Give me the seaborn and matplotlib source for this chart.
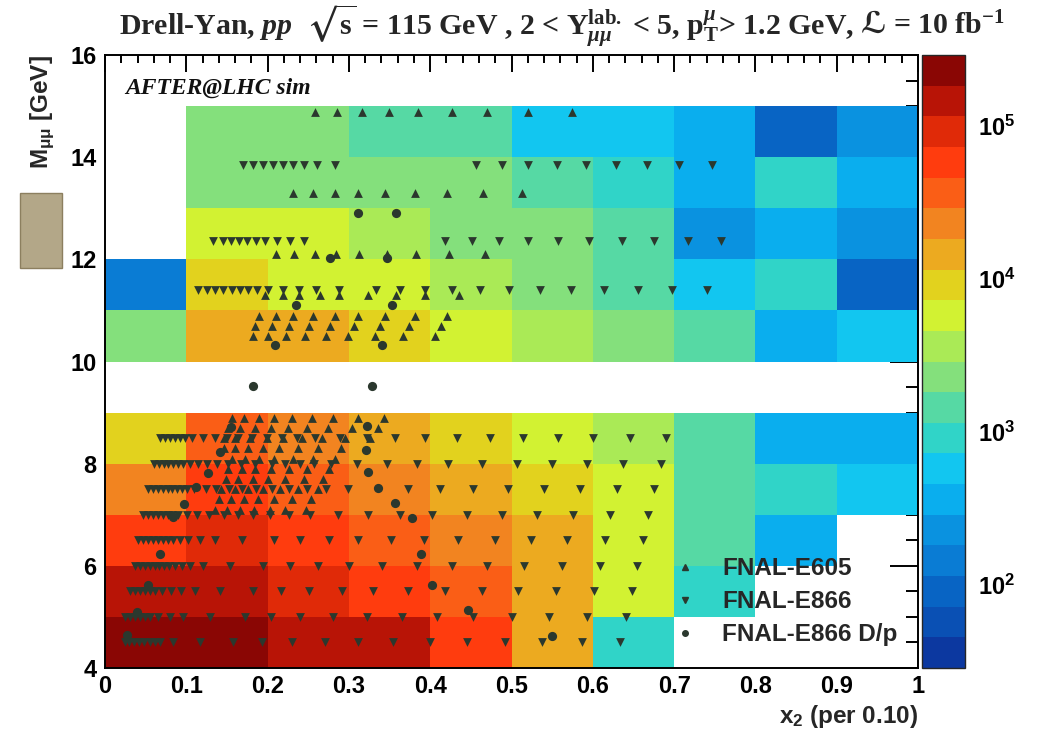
import numpy as np
import pandas as pd
import matplotlib
matplotlib.use("Agg")
import matplotlib.pyplot as plt
import seaborn as sns
from matplotlib.colors import ListedColormap, LogNorm
from matplotlib.lines import Line2D
from matplotlib.patches import Rectangle
from matplotlib.ticker import MultipleLocator, FixedLocator, LogLocator, NullFormatter

# ----------------------------------------------------------------------
# data
# ----------------------------------------------------------------------
nan = np.nan
x_edges = [0.0, 0.1, 0.2, 0.3, 0.4, 0.5, 0.6, 0.7, 0.8, 0.9, 1.0]
m_edges = [4, 5, 6, 7, 8, 9, 10, 11, 12, 13, 14, 15, 16]

# simulated yield per (M, x2) cell, rows from M = 4 upwards
counts = [
    [2.3e5, 2.3e5, 1.45e5, 1.45e5, 5.8e4, 1.45e4, 9.1e2, nan, nan, nan],
    [1.45e5, 1.45e5, 9.1e4, 5.8e4, 3.6e4, 1.45e4, 5.8e3, 9.1e2, nan, nan],
    [5.8e4, 9.1e4, 5.8e4, 3.6e4, 2.3e4, 1.45e4, 5.8e3, 1.45e3, 3.6e2, nan],
    [2.3e4, 5.8e4, 3.6e4, 2.3e4, 1.45e4, 9.1e3, 5.8e3, 1.45e3, 9.1e2, 5.8e2],
    [9.1e3, 3.6e4, 2.3e4, 1.45e4, 9.1e3, 5.8e3, 3.6e3, 1.45e3, 3.6e2, 3.6e2],
    [nan, nan, nan, nan, nan, nan, nan, nan, nan, nan],
    [2.3e3, 1.45e4, 1.45e4, 9.1e3, 5.8e3, 3.6e3, 2.3e3, 1.45e3, 3.6e2, 5.8e2],
    [1.45e2, 9.1e3, 5.8e3, 5.8e3, 3.6e3, 2.3e3, 1.45e3, 5.8e2, 9.1e2, 9.1e1],
    [nan, 5.8e3, 5.8e3, 3.6e3, 2.3e3, 2.3e3, 1.45e3, 2.3e2, 3.6e2, 2.3e2],
    [nan, 2.3e3, 2.3e3, 2.3e3, 2.3e3, 1.45e3, 9.1e2, 3.6e2, 9.1e2, 3.6e2],
    [nan, 2.3e3, 2.3e3, 1.45e3, 1.45e3, 5.8e2, 5.8e2, 3.6e2, 9.1e1, 2.3e2],
    [nan, nan, nan, nan, nan, nan, nan, nan, nan, nan],
]

# FNAL-E605 points: one mass row each
e605_m = [7.1, 7.3, 7.5, 7.7, 7.9, 8.1, 8.3, 8.5, 8.7, 8.9,
          10.5, 10.7, 10.9, 11.3, 12.1, 13.3, 14.88]
e605_x = [
    [0.135, 0.150, 0.166, 0.183, 0.203, 0.222, 0.247],
    [0.140, 0.155, 0.171, 0.188, 0.208, 0.230, 0.253],
    [0.143, 0.160, 0.176, 0.194, 0.215, 0.237, 0.262],
    [0.149, 0.164, 0.182, 0.201, 0.222, 0.245, 0.268],
    [0.151, 0.168, 0.185, 0.204, 0.226, 0.249, 0.275],
    [0.156, 0.172, 0.189, 0.208, 0.231, 0.256, 0.283],
    [0.146, 0.160, 0.176, 0.194, 0.214, 0.237, 0.262, 0.290],
    [0.146, 0.160, 0.178, 0.199, 0.219, 0.242, 0.267, 0.295, 0.326],
    [0.151, 0.166, 0.185, 0.204, 0.225, 0.248, 0.274, 0.304, 0.336],
    [0.156, 0.171, 0.189, 0.208, 0.230, 0.254, 0.281, 0.311, 0.343],
    [0.182, 0.200, 0.223, 0.246, 0.272, 0.299, 0.332, 0.367, 0.406],
    [0.185, 0.205, 0.226, 0.251, 0.277, 0.306, 0.338, 0.374, 0.413],
    [0.190, 0.210, 0.231, 0.256, 0.283, 0.311, 0.344, 0.381, 0.421],
    [0.197, 0.219, 0.239, 0.264, 0.288, 0.323, 0.358, 0.394, 0.435],
    [0.210, 0.232, 0.258, 0.284, 0.312, 0.347, 0.383, 0.423, 0.467],
    [0.231, 0.256, 0.283, 0.311, 0.344, 0.381, 0.421, 0.465, 0.513],
    [0.258, 0.285, 0.316, 0.349, 0.385, 0.427, 0.470, 0.520, 0.574],
]

# FNAL-E866 points
e866_m = [4.5, 5.0, 5.5, 6.0, 6.5, 7.0, 7.5, 8.0, 8.5, 11.4, 12.35, 13.85]
e866_x = [
    [0.024, 0.030, 0.036, 0.042, 0.048, 0.055, 0.061, 0.068, 0.084, 0.117,
     0.158, 0.193, 0.230, 0.271, 0.311, 0.354, 0.400, 0.445, 0.492, 0.537,
     0.587, 0.633],
    [0.025, 0.031, 0.037, 0.043, 0.049, 0.055, 0.065, 0.080, 0.096, 0.129,
     0.172, 0.204, 0.240, 0.281, 0.322, 0.365, 0.408, 0.453, 0.501, 0.546,
     0.593, 0.641],
    [0.031, 0.037, 0.043, 0.049, 0.055, 0.062, 0.070, 0.081, 0.093, 0.111,
     0.141, 0.182, 0.217, 0.251, 0.291, 0.330, 0.373, 0.418, 0.464, 0.508,
     0.555, 0.601, 0.648],
    [0.037, 0.043, 0.049, 0.055, 0.061, 0.067, 0.073, 0.079, 0.086, 0.095,
     0.105, 0.120, 0.154, 0.194, 0.228, 0.262, 0.300, 0.341, 0.384, 0.427,
     0.470, 0.515, 0.562, 0.609, 0.654],
    [0.041, 0.047, 0.053, 0.059, 0.065, 0.071, 0.077, 0.084, 0.092, 0.102,
     0.117, 0.135, 0.168, 0.208, 0.240, 0.275, 0.311, 0.352, 0.392, 0.434,
     0.480, 0.524, 0.568, 0.615, 0.662],
    [0.047, 0.053, 0.059, 0.065, 0.071, 0.077, 0.083, 0.090, 0.101, 0.113,
     0.128, 0.146, 0.163, 0.182, 0.203, 0.226, 0.252, 0.287, 0.323, 0.363,
     0.402, 0.445, 0.488, 0.531, 0.576, 0.621, 0.668],
    [0.053, 0.059, 0.065, 0.071, 0.077, 0.083, 0.089, 0.095, 0.101, 0.110,
     0.124, 0.137, 0.152, 0.168, 0.186, 0.205, 0.226, 0.248, 0.272, 0.299,
     0.373, 0.412, 0.453, 0.496, 0.540, 0.584, 0.630, 0.675],
    [0.060, 0.066, 0.072, 0.078, 0.084, 0.090, 0.096, 0.104, 0.115, 0.126,
     0.138, 0.151, 0.167, 0.185, 0.205, 0.222, 0.240, 0.257, 0.278, 0.310,
     0.347, 0.384, 0.422, 0.464, 0.507, 0.550, 0.593, 0.637, 0.684],
    [0.068, 0.074, 0.080, 0.086, 0.092, 0.098, 0.107, 0.121, 0.135, 0.150,
     0.164, 0.181, 0.199, 0.218, 0.236, 0.258, 0.289, 0.322, 0.357, 0.394,
     0.433, 0.473, 0.514, 0.557, 0.600, 0.646, 0.690],
    [0.114, 0.125, 0.135, 0.145, 0.156, 0.166, 0.176, 0.187, 0.200, 0.219,
     0.239, 0.260, 0.288, 0.333, 0.363, 0.394, 0.427, 0.461, 0.497, 0.535,
     0.573, 0.614, 0.656, 0.697, 0.740],
    [0.133, 0.145, 0.155, 0.165, 0.175, 0.186, 0.197, 0.212, 0.228, 0.245,
     0.418, 0.451, 0.485, 0.520, 0.557, 0.595, 0.636, 0.675, 0.717, 0.758],
    [0.170, 0.182, 0.194, 0.207, 0.219, 0.231, 0.245, 0.261, 0.283, 0.456,
     0.488, 0.520, 0.556, 0.592, 0.629, 0.667, 0.706, 0.747],
]

# FNAL-E866 D/p points
dp_x = [0.027, 0.039, 0.053, 0.068, 0.084, 0.097, 0.112, 0.127, 0.141, 0.155,
        0.182, 0.209, 0.235, 0.277, 0.311,
        0.322, 0.321, 0.323, 0.336, 0.357, 0.378, 0.389, 0.402, 0.447, 0.550,
        0.328, 0.341, 0.353, 0.347, 0.358]
dp_m = [4.65, 5.10, 5.62, 6.23, 6.95, 7.21, 7.54, 7.82, 8.23, 8.72,
        9.53, 10.32, 11.10, 12.03, 12.91,
        8.73, 8.27, 7.84, 7.52, 7.23, 6.94, 6.24, 5.62, 5.13, 4.62,
        9.53, 10.32, 11.10, 12.03, 12.91]

cbar_ticks = [1e2, 1e3, 1e4, 1e5]
cbar_labels = [r"$\mathsf{10^{2}}$", r"$\mathsf{10^{3}}$",
               r"$\mathsf{10^{4}}$", r"$\mathsf{10^{5}}$"]
x_ticks = [0.0, 0.1, 0.2, 0.3, 0.4, 0.5, 0.6, 0.7, 0.8, 0.9, 1.0]
x_labels = ["0", "0.1", "0.2", "0.3", "0.4", "0.5", "0.6", "0.7", "0.8", "0.9", "1"]
y_ticks = [4, 6, 8, 10, 12, 14, 16]

# ROOT-like 20 step palette, low to high
palette = ["#0c38a0", "#0a50b4", "#0864c4", "#0a7cd4", "#0a92e0",
           "#0aaeee", "#12c6f0", "#30d4c8", "#56d9a4", "#84e07c",
           "#aaea56", "#d2f232", "#e2d21e", "#ecaa20", "#f28420",
           "#fa5e16", "#ff3c0e", "#e02a08", "#b81406", "#8a0604"]

# ----------------------------------------------------------------------
# style
# ----------------------------------------------------------------------
sns.set_theme(style="white")
plt.rcParams.update({
    "font.family": ["Liberation Sans", "DejaVu Sans"],
    "font.weight": "bold",
    "mathtext.fontset": "custom",
    "mathtext.rm": "Liberation Serif:bold",
    "mathtext.it": "Liberation Serif:italic:bold",
    "mathtext.bf": "Liberation Serif:bold",
    "mathtext.sf": "Liberation Sans:bold",
    "mathtext.fallback": "stix",
    "axes.linewidth": 1.4,
})

W, H = 1046, 738
fig = plt.figure(figsize=(W / 100, H / 100), dpi=100)
ax = fig.add_axes([105 / W, 70 / H, 813 / W, 613 / H])
cax = fig.add_axes([922 / W, 70 / H, 43 / W, 613 / H])

cmap = ListedColormap(palette)
norm = LogNorm(vmin=10 ** 1.46, vmax=10 ** 5.46)
grid = np.ma.masked_invalid(np.array(counts, dtype=float))
mesh = ax.pcolormesh(x_edges, m_edges, grid, cmap=cmap, norm=norm,
                     shading="flat", antialiased=False)

# markers
rows = []
for m, xs in zip(e605_m, e605_x):
    rows += [("FNAL-E605", x, m) for x in xs]
for m, xs in zip(e866_m, e866_x):
    rows += [("FNAL-E866", x, m) for x in xs]
rows += [("FNAL-E866 D/p", x, m) for x, m in zip(dp_x, dp_m)]
pts = pd.DataFrame(rows, columns=["exp", "x2", "M"])

mcol = "#2b382e"
sns.scatterplot(data=pts[pts.exp == "FNAL-E605"], x="x2", y="M", marker="^",
                s=40, color=mcol, linewidth=0, ax=ax, legend=False, zorder=3)
sns.scatterplot(data=pts[pts.exp == "FNAL-E866"], x="x2", y="M", marker="v",
                s=40, color=mcol, linewidth=0, ax=ax, legend=False, zorder=3)
sns.scatterplot(data=pts[pts.exp == "FNAL-E866 D/p"], x="x2", y="M", marker="o",
                s=44, color=mcol, linewidth=0, ax=ax, legend=False, zorder=4)

ax.set_xlim(0, 1)
ax.set_ylim(4, 16)
ax.set_xlabel("")
ax.set_ylabel("")
ax.xaxis.set_major_locator(FixedLocator(x_ticks))
ax.set_xticklabels(x_labels)
ax.xaxis.set_minor_locator(MultipleLocator(0.02))
ax.yaxis.set_major_locator(FixedLocator(y_ticks))
ax.yaxis.set_minor_locator(MultipleLocator(0.5))
ax.tick_params(which="both", direction="in", top=True, right=True,
               width=1.4, colors="black", labelsize=17)
ax.tick_params(axis="x", which="major", length=12, pad=5)
ax.tick_params(axis="x", which="minor", length=6)
ax.tick_params(axis="y", which="major", length=20, pad=6)
ax.tick_params(axis="y", which="minor", length=9)
for lab in ax.get_xticklabels() + ax.get_yticklabels():
    lab.set_fontweight("bold")
for sp in ax.spines.values():
    sp.set_color("black")

# colour bar
cb = fig.colorbar(mesh, cax=cax)
cb.outline.set_linewidth(1.0)
cax.yaxis.set_major_locator(FixedLocator(cbar_ticks))
cax.yaxis.set_minor_locator(LogLocator(base=10, subs=np.arange(2, 10)))
cax.yaxis.set_minor_formatter(NullFormatter())
cax.set_yticklabels(cbar_labels)
cax.tick_params(which="both", direction="in", right=True, left=False,
                width=1.4, colors="black", labelsize=17)
cax.tick_params(which="major", length=14, pad=9)
cax.tick_params(which="minor", length=7)

# title, built from three pieces so the script L can come from a font that has it
title_y = 1 - 26 / H
tsize = 21.5
parts = [
    (r"Drell-Yan, $\mathit{pp}$  $\sqrt{\mathrm{s}}$ = 115 GeV , 2 < Y$^{\mathrm{lab.}}_{\mu\mu}$"
     r" < 5, p$^{\mu}_{\mathrm{T}}$> 1.2 GeV,", "Liberation Serif", 0),
    ("ℒ", ["STIXGeneral", "DejaVu Serif", "DejaVu Sans"], 7),
    (r"= 10 fb$^{\mathrm{-1}}$", "Liberation Serif", 7),
]
pieces = []
for txt, fam, gap in parts:
    t = fig.text(0, title_y, txt, ha="left", va="center", fontsize=tsize,
                 fontweight="bold", family=fam)
    pieces.append((t, gap))
fig.canvas.draw()
r = fig.canvas.get_renderer()
widths = [t.get_window_extent(r).width for t, _ in pieces]
total = sum(widths) + sum(g for _, g in pieces)
x = 562 - total / 2
for (t, gap), w in zip(pieces, widths):
    x += gap
    t.set_x(x / W)
    x += w

ax.text(0.025, 0.946, "AFTER@LHC sim", transform=ax.transAxes, ha="left",
        va="center", fontsize=17, fontweight="bold", fontstyle="italic",
        family="Liberation Serif", color="#111111")
fig.text(42 / W, 1 - 112 / H, r"M$_{\mathsf{\mu\mu}}$ [GeV]", rotation=90,
         ha="center", va="center", fontsize=17.5, fontweight="bold")
fig.text(918 / W, 1 - 716 / H, r"x$_{\mathsf{2}}$ (per 0.10)", ha="right",
         va="center", fontsize=17.5, fontweight="bold")

# stray tan box left of the axis
fig.patches.append(Rectangle((20 / W, 1 - 268 / H), 42 / W, 75 / H,
                             transform=fig.transFigure, facecolor="#b3a788",
                             edgecolor="#8c7f5f", linewidth=1.0))

handles = [Line2D([], [], linestyle="none", marker=mk, color=mcol, markersize=4)
           for mk in ["^", "v", "o"]]
leg = ax.legend(handles, ["FNAL-E605", "FNAL-E866", "FNAL-E866 D/p"],
                loc="upper left", bbox_to_anchor=(0.699, 0.181), frameon=False,
                borderpad=0, borderaxespad=0, handlelength=1.0,
                handletextpad=1.0, labelspacing=0.42,
                prop={"size": 17.5, "weight": "bold"})

fig.savefig("out.png", dpi=100)
